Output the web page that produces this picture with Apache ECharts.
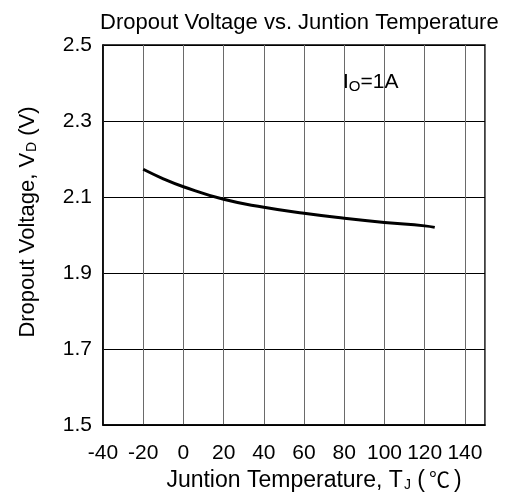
<!DOCTYPE html>
<html>
<head>
<meta charset="utf-8">
<script src="https://cdn.jsdelivr.net/npm/echarts@6/dist/echarts.min.js"></script>
<style>html,body{margin:0;padding:0;background:#fff;}#c{width:510px;height:492px;}</style>
</head>
<body>
<div id="c"></div>
<script>
// Data
const temperatures = [-20, -10, 0, 20, 40, 60, 80, 100, 120, 125];
const dropoutVoltage = [2.173, 2.148, 2.127, 2.094, 2.073, 2.057, 2.044, 2.033, 2.024, 2.020];
const yTicks = [1.5, 1.7, 1.9, 2.1, 2.3, 2.5];

const FONT = '"Liberation Sans", Arial, sans-serif';
const CJK = '"Noto Sans CJK SC", sans-serif';
const chart = echarts.init(document.getElementById('c'), null, { renderer: 'canvas' });
const seriesData = temperatures.map((t, i) => [t, dropoutVoltage[i]]);

chart.setOption({
  backgroundColor: '#fff',
  animation: false,
  title: {
    text: 'Dropout Voltage vs. Juntion Temperature',
    left: 95, top: 7,
    textStyle: { fontFamily: FONT, fontSize: 22, fontWeight: 'normal', color: '#000' }
  },
  grid: { left: 103, right: 25, top: 45, bottom: 67, outerBoundsMode: 'none', containLabel: false, show: true, borderColor: '#000', borderWidth: 1.5, backgroundColor: 'transparent' },
  xAxis: {
    type: 'value', min: -40, max: 150, interval: 20,
    name: '{a|Juntion Temperature, T}{s|J}{a| (}{c|℃}{a|)}',
    nameLocation: 'middle', nameGap: 36,
    nameTextStyle: {
      padding: [0, 0, 0, 40],
      rich: {
        a: { fontFamily: FONT, fontSize: 23, color: '#000' },
        c: { fontFamily: CJK, fontSize: 21, color: '#000', padding: [0, 4, 2, 4] },
        s: { fontFamily: FONT, fontSize: 14, color: '#000', verticalAlign: 'bottom', padding: [8, 0, 0, 1] }
      }
    },
    axisLine: { show: true, onZero: false, lineStyle: { color: '#000', width: 1.5 } },
    axisTick: { show: false },
    axisLabel: { fontFamily: FONT, fontSize: 21, color: '#000', margin: 18, showMaxLabel: false },
    splitLine: { show: true, lineStyle: { color: '#6a6a6a', width: 1 } }
  },
  yAxis: {
    type: 'value', min: 1.5, max: 2.5,
    name: '{a|Dropout Voltage, V}{s|D}{a| (V)}',
    nameLocation: 'middle', nameGap: 64, nameRotate: 90,
    nameTextStyle: {
      padding: [0, 0, 0, 26],
      rich: {
        a: { fontFamily: FONT, fontSize: 22, color: '#000' },
        s: { fontFamily: FONT, fontSize: 14, color: '#000', verticalAlign: 'bottom', padding: [8, 0, 0, 1] }
      }
    },
    axisLine: { show: true, onZero: false, lineStyle: { color: '#000', width: 1.5 } },
    axisTick: { show: false, customValues: yTicks },
    axisLabel: { fontFamily: FONT, fontSize: 21, color: '#000', margin: 11, customValues: yTicks, formatter: v => v.toFixed(1) },
    splitLine: { show: true, lineStyle: { color: '#000', width: 1 } }
  },
  graphic: [{
    type: 'text', left: 343, top: 72,
    style: {
      text: '{a|I}{s|O}{a|=1A}',
      rich: {
        a: { fontFamily: FONT, fontSize: 21, fill: '#000' },
        s: { fontFamily: FONT, fontSize: 15, fill: '#000', verticalAlign: 'bottom', padding: [8, 0, 0, 0] }
      }
    }
  }],
  series: [{
    type: 'line', data: seriesData, smooth: true, showSymbol: false,
    lineStyle: { color: '#000', width: 3 }
  }]
});
</script>
</body>
</html>
